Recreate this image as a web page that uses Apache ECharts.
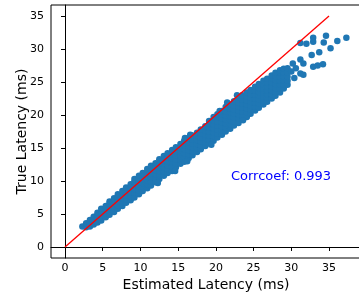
<!DOCTYPE html>
<html>
<head>
<meta charset="utf-8">
<script src="https://cdn.jsdelivr.net/npm/echarts@6/dist/echarts.min.js"></script>
<style>
  html, body { margin: 0; padding: 0; background: #fff; }
  #chart { width: 359px; height: 295px; }
</style>
</head>
<body>
<div id="chart"></div>
<script>
// estimated latency bins (ms) -> true latency values read in that bin
const bandCols = [
  [2.3, [3.1]],
  [2.8, [3.0, 3.6]],
  [3.3, [3.1, 3.7, 4.1]],
  [3.8, [3.4, 4.0, 4.6]],
  [4.3, [3.7, 4.3, 4.9, 5.2]],
  [4.8, [4.0, 4.7, 5.2, 5.8]],
  [5.4, [4.5, 5.1, 5.8, 6.2]],
  [5.9, [4.9, 5.4, 6.0, 6.6, 6.9]],
  [6.5, [5.3, 5.9, 6.6, 7.1, 7.4]],
  [7.0, [5.8, 6.3, 6.9, 7.5, 8.0]],
  [7.6, [6.2, 6.8, 7.4, 8.0, 8.5]],
  [8.1, [6.7, 7.2, 7.8, 8.4, 9.0]],
  [8.7, [7.1, 7.7, 8.3, 8.9, 9.5]],
  [9.2, [7.5, 8.2, 8.8, 9.4, 9.9, 10.3]],
  [9.8, [8.0, 8.6, 9.2, 9.8, 10.4, 10.8]],
  [10.3, [8.5, 9.1, 9.7, 10.3, 10.9, 11.2]],
  [10.9, [8.9, 9.5, 10.1, 10.7, 11.3, 11.8]],
  [11.4, [9.3, 9.9, 10.5, 11.1, 11.7, 12.3]],
  [12.0, [9.8, 10.4, 11.0, 11.6, 12.2, 12.7]],
  [12.5, [10.3, 10.9, 11.5, 12.1, 12.7, 13.3]],
  [13.1, [10.8, 11.4, 12.0, 12.6, 13.2, 13.8]],
  [13.6, [11.2, 11.8, 12.4, 13.0, 13.6, 14.2]],
  [14.2, [11.5, 12.2, 12.9, 13.5, 14.1, 14.7]],
  [14.7, [12.1, 12.7, 13.3, 13.9, 14.5, 15.1]],
  [15.3, [12.6, 13.2, 13.8, 14.4, 15.0, 15.6]],
  [15.8, [12.9, 13.6, 14.2, 14.8, 15.4, 16.1]],
  [16.4, [13.5, 14.1, 14.7, 15.3, 15.9, 16.5]],
  [16.9, [13.9, 14.5, 15.1, 15.7, 16.3, 16.9]],
  [17.5, [14.4, 15.0, 15.6, 16.2, 16.8, 17.3]],
  [18.0, [14.8, 15.4, 16.0, 16.6, 17.2, 17.8]],
  [18.6, [15.3, 15.9, 16.5, 17.1, 17.7, 18.3]],
  [19.1, [15.7, 16.3, 16.9, 17.5, 18.1, 18.7, 19.1]],
  [19.7, [16.1, 16.8, 17.4, 18.0, 18.6, 19.2, 19.7]],
  [20.2, [16.6, 17.2, 17.8, 18.4, 19.0, 19.6, 20.1]],
  [20.8, [17.0, 17.7, 18.3, 18.9, 19.5, 20.1, 20.6]],
  [21.3, [17.5, 18.1, 18.7, 19.3, 19.9, 20.5, 21.2]],
  [21.9, [17.9, 18.6, 19.2, 19.8, 20.4, 21.0, 21.6]],
  [22.4, [18.4, 19.0, 19.6, 20.2, 20.8, 21.4, 22.1]],
  [23.0, [18.8, 19.5, 20.1, 20.7, 21.3, 21.9, 22.6]],
  [23.5, [19.3, 19.9, 20.5, 21.1, 21.7, 22.3, 23.0]],
  [24.1, [19.7, 20.4, 21.0, 21.6, 22.2, 22.8, 23.4]],
  [24.6, [20.2, 20.8, 21.4, 22.0, 22.6, 23.2, 23.8]],
  [25.2, [20.7, 21.3, 21.9, 22.5, 23.1, 23.7, 24.3]],
  [25.7, [21.1, 21.7, 22.3, 22.9, 23.5, 24.1, 24.7]],
  [26.3, [21.6, 22.2, 22.8, 23.4, 24.0, 24.6, 25.2]],
  [26.8, [22.0, 22.6, 23.2, 23.8, 24.4, 25.0, 25.5]],
  [27.4, [22.5, 23.1, 23.7, 24.3, 24.9, 25.6, 26.0]],
  [27.9, [22.9, 23.5, 24.1, 24.7, 25.3, 25.9, 26.4]],
  [28.5, [23.4, 24.0, 24.6, 25.2, 25.8, 26.5, 26.8]],
  [29.0, [24.0, 24.6, 25.2, 25.8, 26.4, 27.0]],
  [29.5, [24.6, 25.2, 25.8, 26.4, 27.1]]
]

// loose points on the band edges
const edgePoints = [
  [15.9, 16.5], [16.6, 17.0], [20.5, 20.6], [21.5, 21.9], [22.8, 23.0],
  [12.3, 9.7], [14.6, 11.5], [16.2, 13.0], [19.4, 15.5], [23.6, 19.2]
]

// the sparse upper-right tail
const outliers = [
  [31.2, 30.9], [32.0, 30.8], [32.9, 31.7], [32.9, 31.1], [34.6, 32.0],
  [34.3, 31.0], [36.1, 31.2], [37.3, 31.7], [35.2, 30.1], [33.7, 29.5],
  [32.7, 29.1], [31.2, 28.4], [31.6, 27.8], [30.6, 27.1], [32.9, 27.3],
  [33.5, 27.5], [34.2, 27.7], [31.2, 26.3], [30.4, 25.6], [31.6, 26.1],
  [30.0, 26.6], [30.2, 27.8]
]

const idealLine = [[0, 0], [35, 35]]
const xTicks = [0, 5, 10, 15, 20, 25, 30, 35]
const yTicks = [0, 5, 10, 15, 20, 25, 30, 35]
const corrText = 'Corrcoef: 0.993'
const corrPos = [22, 10]

const points = []
bandCols.forEach(([x, ys]) => {
  ys.forEach(y => points.push([x, y]))
})
edgePoints.forEach(p => points.push(p))
outliers.forEach(p => points.push(p))

const font = 'DejaVu Sans'
const chart = echarts.init(document.getElementById('chart'))

chart.setOption({
  animation: false,
  grid: {
    left: 51,
    top: 5,
    width: 310,
    height: 253,
    outerBoundsMode: 'none',
    containLabel: false,
    show: true,
    borderColor: '#000',
    borderWidth: 1
  },
  xAxis: {
    type: 'value',
    min: -1.86,
    max: 39.24,
    name: 'Estimated Latency (ms)',
    nameLocation: 'middle',
    nameGap: 20,
    nameMoveOverlap: false,
    nameTextStyle: { fontFamily: font, fontSize: 14, color: '#000' },
    axisLine: { show: true, lineStyle: { color: '#000', width: 1 } },
    axisTick: { show: true, length: 4, customValues: xTicks, lineStyle: { color: '#000' } },
    axisLabel: { customValues: xTicks, margin: 5, fontFamily: font, fontSize: 11, color: '#000' },
    splitLine: { show: false }
  },
  yAxis: {
    type: 'value',
    min: -1.67,
    max: 36.67,
    name: 'True Latency (ms)',
    nameLocation: 'middle',
    nameGap: 22,
    nameMoveOverlap: false,
    nameTextStyle: { fontFamily: font, fontSize: 14, color: '#000' },
    axisLine: { show: true, lineStyle: { color: '#000', width: 1 } },
    axisTick: { show: true, length: 4, customValues: yTicks, lineStyle: { color: '#000' } },
    axisLabel: { customValues: yTicks, margin: 7, fontFamily: font, fontSize: 11, color: '#000' },
    splitLine: { show: false }
  },
  series: [
    {
      type: 'scatter',
      data: points,
      symbolSize: 6.5,
      itemStyle: { color: '#1f77b4', opacity: 1 },
      silent: true,
      z: 2
    },
    {
      type: 'line',
      data: idealLine,
      symbol: 'none',
      lineStyle: { color: '#ff0000', width: 1.3 },
      silent: true,
      z: 3
    }
  ]
})

// text placed in data coordinates, baseline at y = 10
const p = chart.convertToPixel({ gridIndex: 0 }, corrPos)
chart.setOption({
  graphic: [{
    type: 'text',
    x: p[0],
    y: p[1] - 4.5,
    z: 10,
    style: {
      text: corrText,
      fill: '#0000ff',
      font: '13px "DejaVu Sans"',
      textAlign: 'left',
      textVerticalAlign: 'middle'
    }
  }]
})
</script>
</body>
</html>
